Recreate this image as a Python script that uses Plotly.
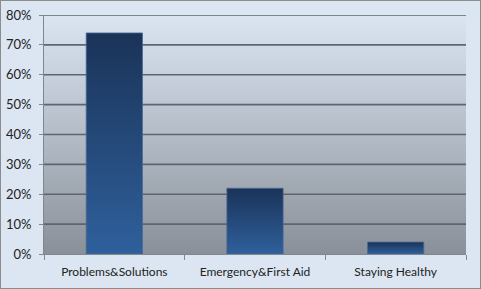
import plotly.graph_objects as go

categories = ["Problems&Solutions", "Emergency&First Aid", "Staying Healthy"]
values = [0.74, 0.22, 0.04]
y_ticks = [0, 0.1, 0.2, 0.3, 0.4, 0.5, 0.6, 0.7, 0.8]

Y_MAX = 0.8
HALF_W = 0.2
FONT = "Lato"

fig = go.Figure()

# plot-area background gradient
fig.add_trace(go.Scatter(
    x=[-0.5, 2.5, 2.5, -0.5, -0.5], y=[0, 0, Y_MAX, Y_MAX, 0],
    mode="lines", line=dict(width=0), fill="toself",
    fillgradient=dict(type="vertical",
                      colorscale=[[0, "#8a9099"], [0.5, "#b3bcc7"], [1, "#dbe5f2"]]),
    hoverinfo="skip", showlegend=False, xaxis="x", yaxis="y"))

# gridlines (drawn under the bars)
gx, gy = [], []
for t in y_ticks[1:]:
    gx += [-0.5, 2.5, None]
    gy += [t, t, None]
fig.add_trace(go.Scatter(x=gx, y=gy, mode="lines",
                         line=dict(color="#5c6670", width=1.6),
                         hoverinfo="skip", showlegend=False, xaxis="x", yaxis="y"))

# bars with gradient
for i, v in enumerate(values):
    fig.add_trace(go.Scatter(
        x=[i - HALF_W, i + HALF_W, i + HALF_W, i - HALF_W, i - HALF_W],
        y=[0, 0, v, v, 0],
        mode="lines", line=dict(color="#4a6b96", width=0.8), fill="toself",
        fillgradient=dict(type="vertical",
                          colorscale=[[0, "#2f609c"], [1, "#1a3358"]]),
        name=categories[i], showlegend=False, xaxis="x", yaxis="y"))

fig.update_layout(
    width=481, height=289,
    margin=dict(l=44, r=15, t=15, b=35),
    paper_bgcolor="#dce6f2",
    plot_bgcolor="rgba(0,0,0,0)",
    font=dict(family=FONT, size=13, color="#222222"),
    xaxis=dict(range=[-0.5, 2.5], tickmode="array", tickvals=[0, 1, 2],
               ticktext=categories, ticks="", showgrid=False, zeroline=False,
               showline=True, linecolor="#7f8790", linewidth=1,
               tickfont=dict(size=12),
               ticklabelstandoff=7, automargin=False,
               minor=dict(tickmode="array", tickvals=[-0.5, 0.5, 1.5, 2.5],
                          ticks="outside", ticklen=5, tickcolor="#7f8790",
                          showgrid=False)),
    yaxis=dict(range=[0, Y_MAX], tickmode="array", tickvals=y_ticks,
               tickformat=".0%", ticks="outside", ticklen=4, tickcolor="#7f8790",
               showgrid=False, zeroline=False, showline=True, automargin=False,
               linecolor="#7f8790", linewidth=1, ticklabelstandoff=5),
    shapes=[dict(type="rect", xref="paper", yref="paper",
                 x0=-44 / 422, x1=1 + 15 / 422, y0=-35 / 239, y1=1 + 15 / 239,
                 line=dict(color="#8c8c8c", width=2), fillcolor="rgba(0,0,0,0)")],
)

fig.write_html("out.html")
